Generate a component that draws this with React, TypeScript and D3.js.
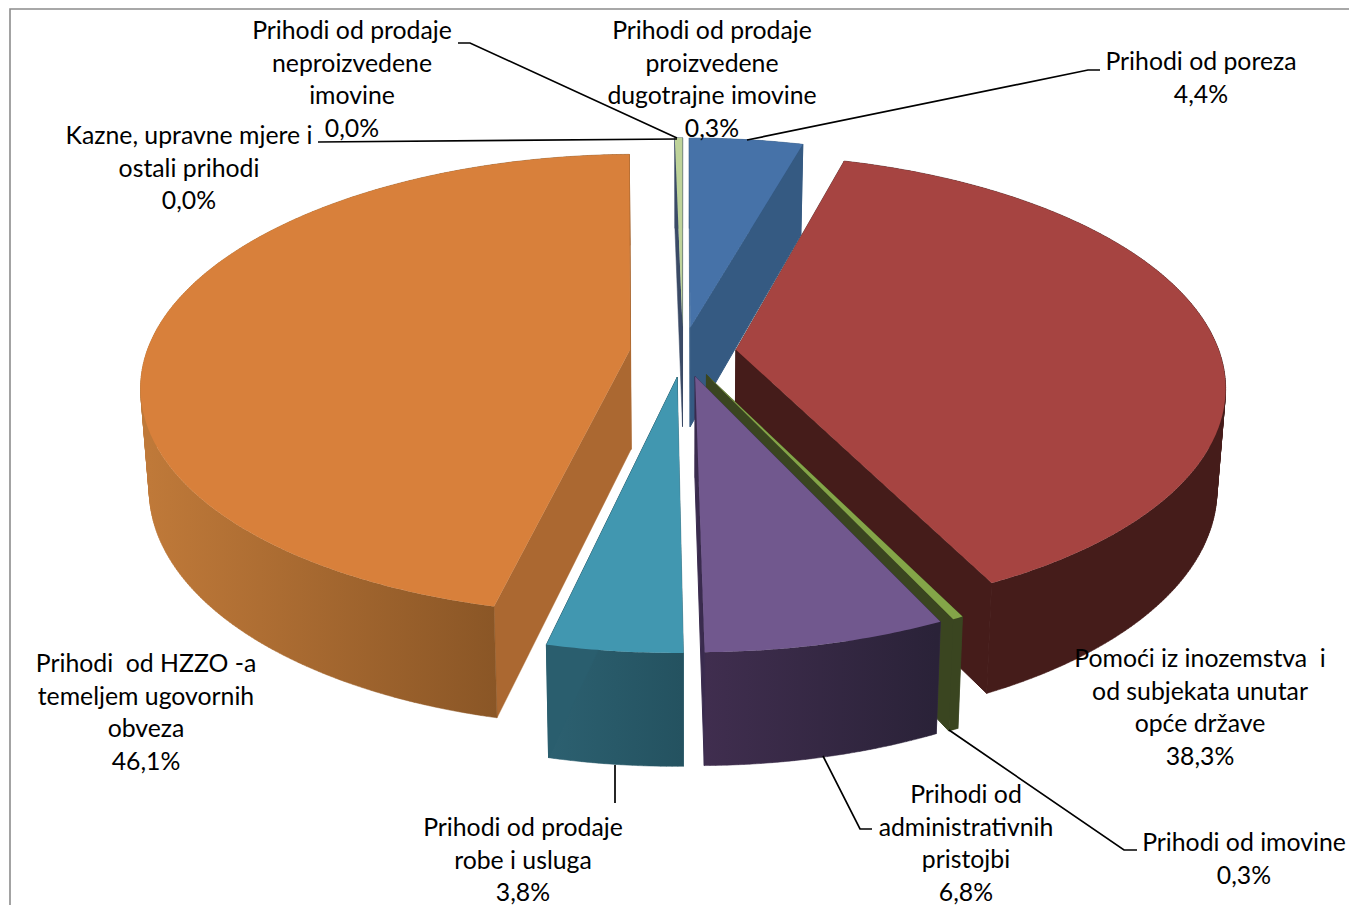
import * as d3 from 'd3'

// Share of revenue per source, in percent, clockwise from 12 o'clock
const names = [
  ['Prihodi od poreza'],
  ['Pomoći iz inozemstva  i', 'od subjekata unutar', 'opće države'],
  ['Prihodi od imovine'],
  ['Prihodi od', 'administrativnih', 'pristojbi'],
  ['Prihodi od prodaje', 'robe i usluga'],
  ['Prihodi  od HZZO -a', 'temeljem ugovornih', 'obveza'],
  ['Kazne, upravne mjere i', 'ostali prihodi'],
  ['Prihodi od prodaje', 'neproizvedene', 'imovine'],
  ['Prihodi od prodaje', 'proizvedene', 'dugotrajne imovine'],
]
const values = [4.4, 38.3, 0.3, 6.8, 3.8, 46.1, 0.0, 0.0, 0.3]

// Painting style per slice: top face, side wall, outer rim gradient
const topColors = ['#4672a8', '#a64441', '#84a548', '#71588e', '#4197b0', '#d8803b', '#bed39a', '#bed39a', '#bed39a']
const wallColors = ['#355a82', '#451c1a', '#3a4520', '#3a2b4e', '#2a5e6e', '#ab6831', '#3a4a66', '#3a4a66', '#3a4a66']
const rimFrom = ['#355a82', '#451c1a', '#3a4520', '#402e4f', '#2c6070', '#bf7939', '#3a4a66', '#3a4a66', '#3a4a66']
const rimTo = ['#355a82', '#451c1a', '#3a4520', '#2a2238', '#245260', '#8a5626', '#3a4a66', '#3a4a66', '#3a4a66']

// Back to front
const paintOrder = [0, 8, 7, 6, 5, 1, 2, 4, 3]

// Label layout: centre x, y of first baseline
const labelX = [1201, 1200, 1244, 966, 523, 146, 189, 352, 712]
const labelY = [70, 667, 851, 803, 836, 672, 144, 39, 39]
const leaders = [
  [[747, 140], [1088, 70], [1100, 70]],
  [],
  [[949, 730], [1124, 850], [1137, 850]],
  [[823, 756], [860, 829], [872, 829]],
  [[615, 765], [615, 803]],
  [],
  [[318, 142], [677, 139]],
  [[458, 43], [470, 43], [677, 138]],
  [],
]

// Projection of the tilted pie
const cx = 683
const cy = 352
const rx = 483.5
const ry = 225.5
const persp = 0.152
const explode = 0.11
const depth = 100
const lineH = 32.6

const project = (px: number, py: number, bottom = false): [number, number] => {
  const s = 1 / (1 - persp * py)
  const x = rx * px * s
  const y = ry * py * s
  if (!bottom) return [cx + x, cy + y]
  return [cx + x * 0.984, cy + y + depth + 0.0447 * y]
}

const fmt = (v: number) => d3.format('.1f')(v).replace('.', ',') + '%'
const line = d3.line()

// Rim as a band of quads, all wound the same way, so the silhouette between
// top and bottom edge gets filled too
const rimPath = (top: [number, number][], bot: [number, number][]) =>
  d3.range(top.length - 1)
    .map(k => {
      const quad = [top[k], top[k + 1], bot[k + 1], bot[k]]
      return line(d3.polygonArea(quad) < 0 ? quad.reverse() : quad) + 'Z'
    })
    .join('')

export default function App() {
  const arcs = d3.pie<number>().sort(null).startAngle(0).endAngle(2 * Math.PI)(values)

  const slices = arcs.map((a, i) => {
    const mid = (a.startAngle + a.endAngle) / 2
    const ox = explode * Math.sin(mid)
    const oy = -explode * Math.cos(mid)
    const n = Math.max(2, Math.ceil((a.endAngle - a.startAngle) / 0.01))
    const angles = d3.range(n + 1).map(k => a.startAngle + ((a.endAngle - a.startAngle) * k) / n)
    const world = angles.map(t => [ox + Math.sin(t), oy - Math.cos(t)])
    const topArc = world.map(p => project(p[0], p[1]))
    const botArc = world.map(p => project(p[0], p[1], true))
    const apexT = project(ox, oy)
    const apexB = project(ox, oy, true)
    const front = botArc.filter((_, k) => world[k][1] > 0.1)
    const [x0, x1] = d3.extent(front.length ? front : botArc, p => p[0]) as [number, number]
    return {
      i,
      top: line([apexT, ...topArc])! + 'Z',
      rim: rimPath(topArc, botArc),
      wallA: line([apexT, topArc[0], botArc[0], apexB])! + 'Z',
      wallB: line([apexT, topArc[n], botArc[n], apexB])! + 'Z',
      x0,
      x1,
    }
  })

  return (
    <svg
      width={1349}
      height={905}
      viewBox="0 0 1349 905"
      style={{ position: 'absolute', left: 0, top: 0, background: '#fff' }}
    >
      <defs>
        {slices.map(s => (
          <linearGradient key={s.i} id={`rim-${s.i}`} gradientUnits="userSpaceOnUse" x1={s.x0} x2={s.x1 + 0.01} y1={0} y2={0}>
            <stop offset="0%" stopColor={rimFrom[s.i]} />
            <stop offset="100%" stopColor={rimTo[s.i]} />
          </linearGradient>
        ))}
      </defs>

      <path d="M1349,9H10V905" fill="none" stroke="#8c8c8c" strokeWidth={1.6} />

      {paintOrder.map(idx => {
        const s = slices[idx]
        if (values[idx] === 0) return null
        return (
          <g key={idx}>
            <path d={s.wallA} fill={wallColors[idx]} stroke={wallColors[idx]} strokeWidth={0.5} />
            <path d={s.rim} fill={`url(#rim-${idx})`} stroke={`url(#rim-${idx})`} strokeWidth={0.5} />
            <path d={s.wallB} fill={wallColors[idx]} stroke={wallColors[idx]} strokeWidth={1} />
            <path d={s.top} fill={topColors[idx]} />
          </g>
        )
      })}

      {leaders.map((pts, i) =>
        pts.length ? (
          <path key={i} d={line(pts as [number, number][])!} fill="none" stroke="#000" strokeWidth={1.7} />
        ) : null
      )}

      <g fontFamily="Lato, 'Open Sans', sans-serif" fontSize={24.8} fill="#000" textAnchor="middle">
        {names.map((ln, i) => (
          <text key={i} x={labelX[i]} y={labelY[i]}>
            {[...ln, fmt(values[i])].map((t, k) => (
              <tspan key={k} x={labelX[i]} y={labelY[i] + k * lineH} style={{ whiteSpace: 'pre' }}>
                {t}
              </tspan>
            ))}
          </text>
        ))}
      </g>
    </svg>
  )
}
